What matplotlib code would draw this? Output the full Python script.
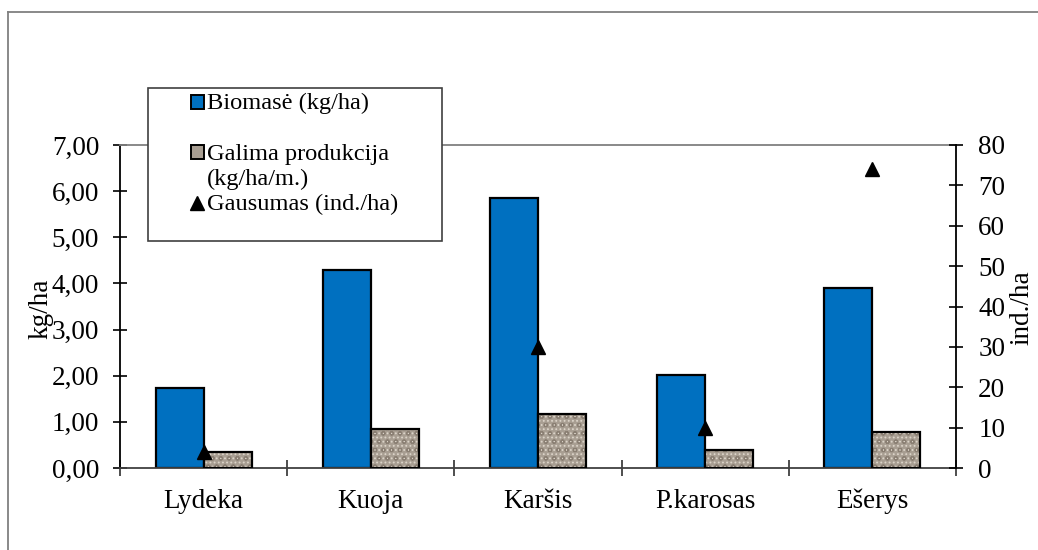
import numpy as np
import matplotlib
matplotlib.use("Agg")
import matplotlib.pyplot as plt
from matplotlib.patches import Rectangle
from matplotlib.lines import Line2D
from matplotlib.ticker import FixedLocator, FuncFormatter

# Fish species and survey values
species = ["Lydeka", "Kuoja", "Karšis", "P.karosas", "Ešerys"]
biomass = [1.73, 4.29, 5.86, 2.02, 3.90]          # kg/ha
production = [0.35, 0.85, 1.17, 0.39, 0.78]       # kg/ha/m.
abundance = [4, np.nan, 30, 10, 74]               # ind./ha

legend_labels = ["Biomasė (kg/ha)", "Galima produkcija", "(kg/ha/m.)", "Gausumas (ind./ha)"]

plt.rcParams["font.family"] = ["Liberation Serif", "DejaVu Serif"]
plt.rcParams["hatch.linewidth"] = 0.8

BLUE = "#0070c0"
STONE = "#a89e92"
FS = 19.5
LEG_FS = 17.6

W, H = 1038, 550
fig = plt.figure(figsize=(W / 100, H / 100), dpi=100)


def px(x, y):
    """Pixel position (from top-left) to figure fraction."""
    return x / W, 1 - y / H


def stone_fill(target, *args, **kw):
    """Speckled stone-like fill: base colour plus two grain layers."""
    target.bar(*args, color=STONE, linewidth=0, zorder=2, **kw)
    target.bar(*args, fill=False, edgecolor="#dcd4c9", hatch="....", linewidth=0, zorder=2, **kw)
    target.bar(*args, fill=False, edgecolor="#8a7f73", hatch="oo", linewidth=0, zorder=2, **kw)
    target.bar(*args, fill=False, edgecolor="black", linewidth=1.6, zorder=3, **kw)


# Outer frame of the chart area
fig.add_artist(Line2D([8 / W, 1.0], [1 - 12 / H, 1 - 12 / H], color="#808080", lw=1.3))
fig.add_artist(Line2D([8 / W, 8 / W], [0.0, 1 - 12 / H], color="#808080", lw=1.3))

ax = fig.add_axes([120 / W, 1 - 468 / H, 836 / W, 323 / H])
ax2 = ax.twinx()

x = np.arange(len(species))
bw = 0.287
ax.bar(x - bw / 2, biomass, bw, color=BLUE, edgecolor="black", linewidth=1.6, zorder=2)
stone_fill(ax, x + bw / 2, production, bw)

ax2.plot(x, abundance, linestyle="none", marker="^", color="black", markersize=10, zorder=4)

ax.set_xlim(-0.5, len(species) - 0.5)
ax.set_ylim(0, 7)
ax2.set_ylim(0, 80)

# Left axis
ax.set_yticks(np.arange(0, 7.01, 1))
ax.yaxis.set_major_formatter(FuncFormatter(lambda v, _: f"{v:.2f}".replace(".", ",")))
ax.tick_params(axis="y", direction="inout", length=10, width=1.2, pad=10, labelsize=FS,
               colors="black")

# Category axis: labels at centres (on a common baseline), ticks between groups
ax.set_xticks(x)
ax.set_xticklabels(species)
for lbl in ax.get_xticklabels():
    lbl.set_verticalalignment("baseline")
ax.xaxis.set_minor_locator(FixedLocator(np.arange(-0.5, len(species), 1.0)))
ax.tick_params(axis="x", which="major", length=0, pad=28.5, labelsize=FS)
ax.tick_params(axis="x", which="minor", direction="inout", length=12, width=1.2,
               color="#303030")

# Right axis
ax2.set_yticks(np.arange(0, 81, 10))
ax2.tick_params(axis="y", direction="inout", length=10, width=1.2, pad=11, labelsize=FS)

ax.spines["right"].set_visible(False)
ax.spines["top"].set_color("#808080")
ax.spines["top"].set_linewidth(1.3)
ax.spines["left"].set_color("black")
ax.spines["left"].set_linewidth(1.3)
ax.spines["bottom"].set_color("#404040")
ax.spines["bottom"].set_linewidth(1.3)
for s in ("top", "left", "bottom"):
    ax2.spines[s].set_visible(False)
ax2.spines["right"].set_color("black")
ax2.spines["right"].set_linewidth(1.3)

# Axis titles
fig.text(*px(41, 309), "kg/ha", rotation=90, ha="center", va="center", fontsize=FS)
fig.text(*px(1022, 308), "ind./ha", rotation=90, ha="center", va="center", fontsize=FS)

# Legend box
lx0, ly0 = px(148, 241)
fig.add_artist(Rectangle((lx0, ly0), 294 / W, 153 / H, transform=fig.transFigure,
                         facecolor="white", edgecolor="#404040", linewidth=1.2, zorder=5))

sq = 13
cx = 197
bx, by = px(cx - sq / 2, 102 + sq / 2)
fig.add_artist(Rectangle((bx, by), sq / W, sq / H, transform=fig.transFigure,
                         facecolor=BLUE, edgecolor="black", linewidth=1.4, zorder=6))
gx, gy = px(cx - sq / 2, 152 + sq / 2)
fig.add_artist(Rectangle((gx, gy), sq / W, sq / H, transform=fig.transFigure,
                         facecolor=STONE, edgecolor="black", linewidth=1.4, zorder=6))
tx, ty = px(cx, 203)
fig.add_artist(Line2D([tx], [ty], marker="^", color="black", markersize=10,
                      linestyle="none", transform=fig.transFigure, zorder=6))

for label, yb in zip(legend_labels, [109, 160, 185, 210]):
    fig.text(*px(207, yb), label, ha="left", va="baseline", fontsize=LEG_FS, zorder=7)

fig.savefig("out.png", dpi=100, facecolor="white")
